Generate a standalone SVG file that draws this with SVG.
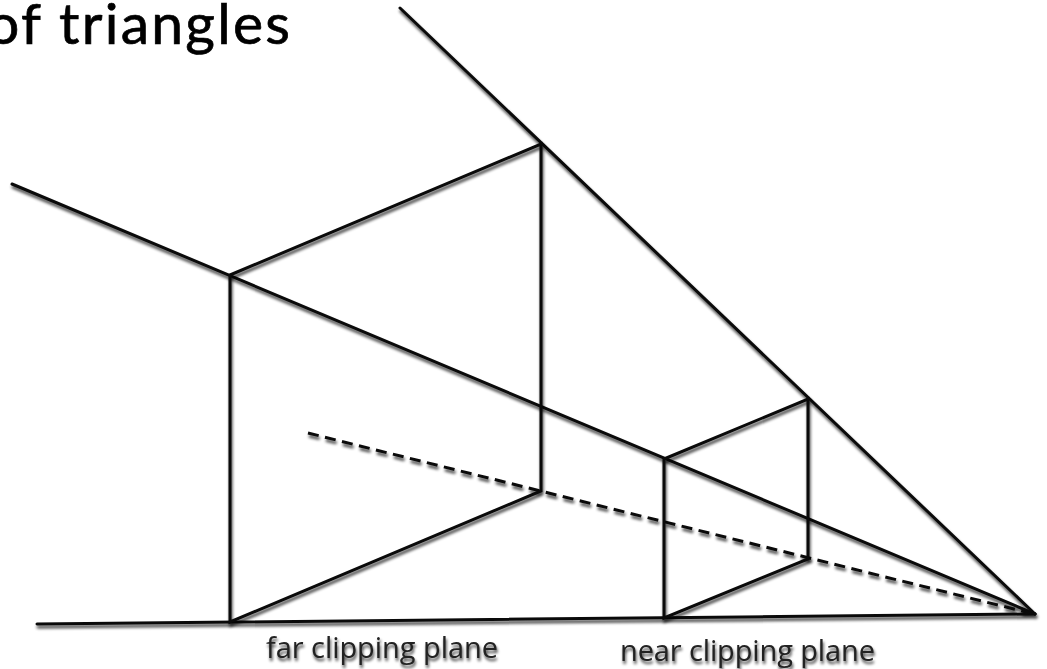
<svg xmlns="http://www.w3.org/2000/svg" width="1047" height="669" viewBox="0 0 1047 669">
<defs>
<filter id="shadow" filterUnits="userSpaceOnUse" x="0" y="0" width="1047" height="669" color-interpolation-filters="sRGB">
<feGaussianBlur in="SourceAlpha" stdDeviation="1.8" result="b"/>
<feOffset in="b" dx="1" dy="3" result="o"/>
<feComponentTransfer in="o" result="s"><feFuncA type="linear" slope="0.75"/></feComponentTransfer>
<feMerge><feMergeNode in="s"/><feMergeNode in="SourceGraphic"/></feMerge>
</filter>
</defs>
<style>
.l{stroke:#0a0a0a;stroke-width:3;fill:none;stroke-linecap:round}
.d{stroke-dasharray:11 6.5;stroke-linecap:butt}
.t{font-family:"Open Sans","Noto Sans",sans-serif;font-size:29px;fill:#222}
.h{font-family:"Lato","Liberation Sans",sans-serif;font-size:57px;fill:#000;stroke:#000;stroke-width:.7}
</style>
<rect width="1047" height="669" fill="#fff"/>
<g id="title"><text class="h" x="-13" y="44" textLength="303" lengthAdjust="spacing">of triangles</text></g>
<g id="connectors" filter="url(#shadow)">
<path class="l" d="M400 8L1035 614"/>
<path class="l" d="M12 184L1035 614"/>
<path class="l" d="M37 624L1035 614"/>
<path class="l d" d="M308 433L1030 613"/>
</g>
<g id="far-plane" filter="url(#shadow)">
<path class="l" d="M230 275L541 144V491L230 622Z"/>
</g>
<g id="near-plane" filter="url(#shadow)">
<path class="l" d="M664 459L808 399V559L664 618Z"/>
</g>
<g id="far-label" filter="url(#shadow)"><text class="t" x="266" y="658" textLength="232">far clipping plane</text></g>
<g id="near-label" filter="url(#shadow)"><text class="t" x="620" y="661" textLength="255">near clipping plane</text></g>
</svg>
